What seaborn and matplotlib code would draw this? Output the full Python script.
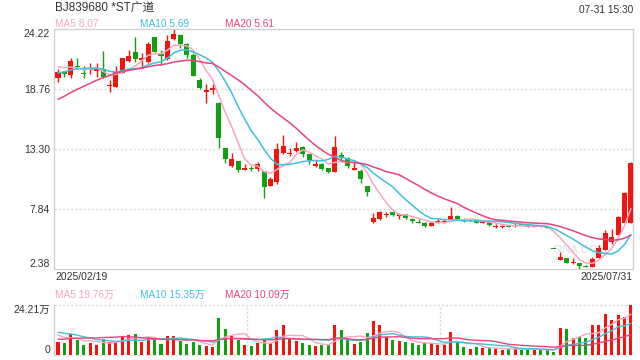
import numpy as np
import pandas as pd
import matplotlib
matplotlib.use("Agg")
import matplotlib.pyplot as plt
import seaborn as sns

# ---------------- data ----------------
title = "BJ839680 *ST广道"
timestamp = "07-31 15:30"
start_label = "2025/02/19"
end_label = "2025/07/31"
price_ma_labels = ["MA5 8.07", "MA10 5.69", "MA20 5.61"]
vol_ma_labels = ["MA5 19.76万", "MA10 15.35万", "MA20 10.09万"]
price_ticks = [2.38, 7.84, 13.30, 18.76, 24.22]
vol_ticks = [0, 24.21]
vol_tick_labels = ["0", "24.21万"]

opens = [19.75, 20.36, 20.05, 20.91, 20.21, 20.51, 20.45, 20.60, 19.05, 18.99,
         20.27, 21.36, 22.12, 21.42, 21.27, 23.49, 21.97, 21.48, 23.31, 23.70,
         22.88, 21.88, 19.60, 18.53, 18.69, 17.47, 13.37, 11.79, 12.22, 11.40,
         11.58, 11.49, 11.30, 9.97, 10.33, 12.91, 12.82, 13.13, 13.52, 12.85,
         11.79, 11.94, 11.58, 11.24, 12.76, 12.46, 11.43, 11.33, 9.94, 6.66,
         6.90, 7.29, 7.55, 7.20, 7.35, 6.90, 6.69, 6.53, 6.32, 6.69,
         6.69, 6.90, 7.23, 6.90, 6.81, 6.84, 6.53, 6.69, 6.17, 6.20,
         6.32, 6.29, 6.44, 6.35, 6.17, 6.29, 6.23, 4.21, 3.19, 3.34,
         2.89, 2.89, 2.67, 2.58, 3.41, 4.10, 4.86, 5.47, 6.53, 6.54]
highs = [20.57, 20.45, 21.57, 21.63, 20.87, 21.18, 21.18, 22.27, 19.60, 20.87,
         21.60, 22.33, 23.49, 22.03, 23.09, 23.55, 22.33, 23.70, 24.22, 23.79,
         22.94, 22.03, 19.75, 19.24, 19.24, 17.60, 13.40, 12.91, 12.22, 11.91,
         11.79, 12.09, 11.30, 10.79, 13.89, 14.59, 13.37, 13.92, 13.58, 12.88,
         12.31, 12.00, 11.60, 14.53, 13.07, 12.55, 12.15, 11.46, 9.94, 7.50,
         7.65, 7.60, 7.60, 7.45, 7.40, 7.05, 6.90, 6.69, 6.75, 7.05,
         6.90, 7.99, 7.29, 6.99, 6.95, 6.90, 6.75, 6.75, 6.47, 6.35,
         6.38, 6.53, 6.50, 6.41, 6.32, 6.32, 6.26, 4.21, 3.95, 3.40,
         3.34, 2.89, 2.79, 3.43, 4.56, 5.93, 5.99, 7.20, 9.42, 12.10]
lows = [19.45, 19.90, 19.81, 20.57, 19.75, 20.12, 19.90, 19.81, 18.47, 18.99,
        20.20, 21.27, 21.21, 20.66, 21.12, 22.18, 20.97, 21.42, 23.24, 22.49,
        21.57, 19.99, 18.75, 17.47, 18.32, 13.43, 12.00, 11.70, 11.24, 11.40,
        11.33, 11.30, 8.87, 9.97, 10.09, 12.82, 12.67, 13.07, 12.55, 11.91,
        11.70, 11.40, 11.15, 11.18, 12.25, 11.55, 11.43, 10.24, 9.06, 6.60,
        6.85, 7.10, 7.25, 6.95, 6.95, 6.60, 6.53, 6.23, 6.32, 6.60,
        6.60, 6.90, 6.84, 6.69, 6.75, 6.60, 6.53, 6.32, 6.08, 6.15,
        6.20, 6.23, 6.35, 6.20, 6.17, 6.17, 6.08, 4.16, 3.19, 2.89,
        2.85, 2.38, 2.52, 2.52, 3.34, 4.10, 4.65, 5.47, 6.53, 6.54]
closes = [20.36, 20.12, 21.33, 20.75, 20.12, 20.60, 20.60, 19.90, 19.14, 20.36,
          21.57, 21.79, 21.48, 21.57, 22.88, 22.18, 21.82, 23.18, 23.79, 22.88,
          21.88, 19.99, 18.84, 18.69, 18.84, 14.28, 12.40, 12.40, 11.40, 11.58,
          11.49, 11.94, 9.88, 10.58, 13.31, 13.61, 12.98, 13.43, 12.82, 12.31,
          11.91, 11.49, 11.25, 13.52, 12.52, 11.79, 11.55, 10.58, 9.42, 7.05,
          7.59, 7.38, 7.29, 7.35, 6.99, 6.78, 6.60, 6.32, 6.53, 6.78,
          6.78, 7.20, 6.93, 6.78, 6.90, 6.60, 6.62, 6.38, 6.29, 6.29,
          6.23, 6.38, 6.35, 6.23, 6.29, 6.17, 6.11, 4.16, 3.43, 2.89,
          3.04, 2.65, 2.58, 3.28, 4.32, 5.68, 5.32, 7.08, 9.33, 12.06]
volumes = [6.4, 5.8, 10.2, 7.3, 4.8, 5.8, 4.8, 7.7, 6.1, 6.4,
           8.9, 9.7, 10.2, 6.3, 8.7, 7.7, 5.3, 9.2, 9.2, 6.8,
           5.3, 6.3, 4.8, 4.4, 3.9, 17.9, 12.6, 9.2, 7.3, 4.8,
           4.4, 5.8, 7.3, 5.8, 12.1, 14.5, 7.9, 6.8, 5.8, 4.8,
           4.4, 4.8, 4.8, 14.5, 12.1, 7.7, 5.3, 6.3, 10.6, 16.5,
           14.5, 8.7, 7.3, 6.8, 6.3, 5.8, 4.8, 5.8, 5.8, 4.8,
           4.8, 11.1, 6.3, 3.9, 2.9, 3.9, 3.4, 3.4, 2.9, 2.4,
           2.9, 3.4, 2.4, 2.9, 2.4, 2.4, 2.4, 1.5, 13.1, 12.6,
           8.2, 8.7, 8.2, 14.5, 14.5, 19.9, 17.0, 19.4, 18.4, 24.2]
# sessions before the window (estimated from where the MA lines start)
prior_closes = [14.4, 14.6, 14.8, 14.9, 15.0, 15.1, 15.2, 15.3, 15.5, 19.4,
                19.2, 19.5, 19.8, 20.0, 20.0, 20.6, 21.0, 21.1, 21.0]
prior_volumes = [4.0, 4.2, 4.5, 3.8, 4.0, 4.4, 4.3, 4.1, 4.5, 4.2,
                 11.0, 13.5, 12.0, 14.0, 11.0, 12.0, 10.5, 9.6, 10.0]

# ---------------- styling ----------------
sns.set_theme(style="white")
plt.rcParams["font.family"] = ["Liberation Sans", "Noto Sans CJK SC", "DejaVu Sans"]

RED = "#f2150f"
GREEN = "#10a010"
MA_COLORS = ["#f7a6c4", "#3fc0dd", "#e8447b"]
GRID = "#d9d9d9"
BORDER = "#cfcfcf"
TXT = "#333333"

W, H = 640, 360
def fx(px):
    return px / W
def fy(py):
    return 1 - py / H

n = len(closes)
idx = np.arange(n)
df = pd.DataFrame({"x": idx, "open": opens, "high": highs, "low": lows,
                   "close": closes, "vol": volumes})
up = df["close"] >= df["open"]
cols = np.where(up, RED, GREEN)

full_c = pd.Series(prior_closes + closes)
full_v = pd.Series(prior_volumes + volumes)
k = len(prior_closes)
for p in (5, 10, 20):
    df[f"ma{p}"] = full_c.rolling(p).mean().iloc[k:].to_numpy()
    df[f"vma{p}"] = full_v.rolling(p).mean().iloc[k:].to_numpy()

fig = plt.figure(figsize=(6.4, 3.6), dpi=100)
L, R = 54.3, 633.3
ax = fig.add_axes([fx(L), fy(269), fx(R) - fx(L), fy(29.3) - fy(269)])
axv = fig.add_axes([fx(L), fy(355), fx(R) - fx(L), fy(305) - fy(355)])

xlim = (-0.575, n - 1 + 0.36)

# ---- price panel ----
for t in price_ticks[1:-1]:
    ax.axhline(t, color=GRID, lw=1.0, ls=(0, (1.5, 1.5)), zorder=0)
ax.vlines(df["x"], df["low"], df["high"], colors=cols, lw=1.0, zorder=2)
body_lo = np.minimum(df["open"], df["close"])
body_h = np.maximum(np.abs(df["close"] - df["open"]), 0.09)
ax.bar(df["x"], body_h, bottom=body_lo, width=0.78, color=cols, lw=0, zorder=3)
for p, c in zip((5, 10, 20), MA_COLORS):
    sns.lineplot(data=df, x="x", y=f"ma{p}", ax=ax, color=c, lw=1.1, zorder=4)
ax.set_xlim(*xlim)
ax.set_ylim(price_ticks[0], price_ticks[-1])
ax.set_yticks(price_ticks)
ax.set_yticklabels([f"{t:.2f}" for t in price_ticks])
ax.set_xticks([])
ax.set_xlabel("")
ax.set_ylabel("")
ax.tick_params(axis="y", length=0, pad=3, labelsize=7.5, labelcolor=TXT)
tl = ax.get_yticklabels()
tl[0].set_va("bottom")
tl[-1].set_va("top")
for s in ax.spines.values():
    s.set_color(BORDER)
    s.set_linewidth(0.9)
ax.text(0.955, 0.08, "SINA.COM", transform=ax.transAxes, ha="right", va="center",
        fontsize=8, color="#d6dfe6", zorder=1)

# ---- volume panel ----
for t in (0, 24.21):
    axv.axhline(t, color=GRID, lw=1.0, ls=(0, (1.5, 1.5)), zorder=0, clip_on=False)
for frac in (1 / 3, 2 / 3):
    axv.axvline(xlim[0] + frac * (xlim[1] - xlim[0]), color=GRID, lw=1.0,
                ls=(0, (1.5, 1.5)), zorder=0)
axv.bar(df["x"], df["vol"], width=0.47, color=cols, lw=0, zorder=2)
for p, c in zip((5, 10, 20), MA_COLORS):
    sns.lineplot(data=df, x="x", y=f"vma{p}", ax=axv, color=c, lw=1.0, zorder=3)
axv.set_xlim(*xlim)
axv.set_ylim(vol_ticks[0], vol_ticks[1])
axv.set_yticks(vol_ticks)
axv.set_yticklabels(vol_tick_labels)
axv.set_xticks([])
axv.set_xlabel("")
axv.set_ylabel("")
axv.tick_params(axis="y", length=0, pad=3, labelsize=7.5, labelcolor=TXT)
vl = axv.get_yticklabels()
vl[0].set_va("bottom")
vl[-1].set_va("top")
for name, s in axv.spines.items():
    if name == "left":
        s.set_color(BORDER)
        s.set_linewidth(0.9)
    else:
        s.set_visible(False)

# ---- texts ----
fig.text(fx(55), fy(9), title, fontsize=8.5, color=TXT, va="center", ha="left")
fig.text(fx(633), fy(10), timestamp, fontsize=7.3, color=TXT, va="center", ha="right")
for lab, c, x0 in zip(price_ma_labels, MA_COLORS, (55, 140, 225)):
    fig.text(fx(x0), fy(24), lab, fontsize=7.3, color=c, va="center", ha="left")
for lab, c, x0 in zip(vol_ma_labels, MA_COLORS, (55, 140, 225)):
    fig.text(fx(x0), fy(295), lab, fontsize=7.3, color=c, va="center", ha="left")
fig.text(fx(55), fy(277.5), start_label, fontsize=7.5, color=TXT, va="center", ha="left")
fig.text(fx(633), fy(277.5), end_label, fontsize=7.5, color=TXT, va="center", ha="right")

fig.savefig("out.png", dpi=100, facecolor="white")
